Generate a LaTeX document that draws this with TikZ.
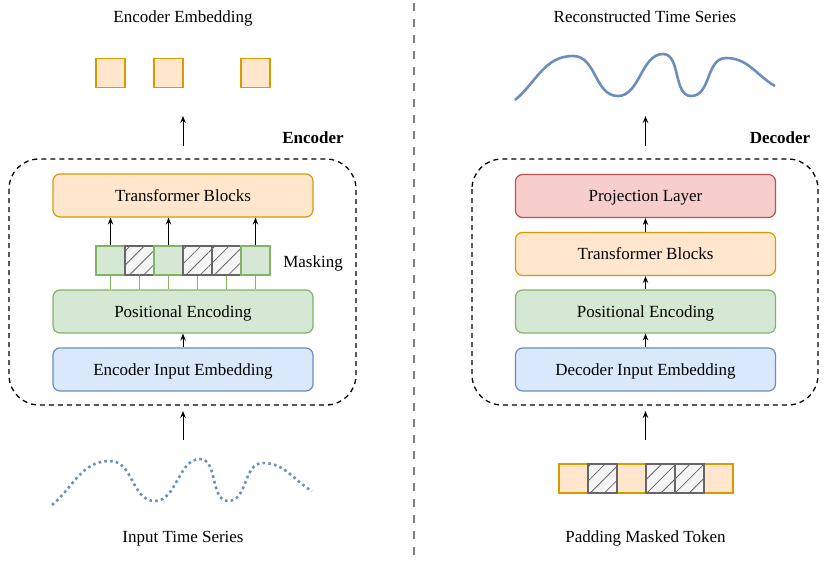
\documentclass[tikz,border=0pt]{standalone}
\usepackage{fontspec}
\setmainfont{Liberation Serif}
\usetikzlibrary{arrows.meta,patterns.meta}
\definecolor{orF}{HTML}{FFE6CC}\definecolor{orD}{HTML}{D79B00}
\definecolor{grF}{HTML}{D5E8D4}\definecolor{grD}{HTML}{82B366}
\definecolor{blF}{HTML}{DAE8FC}\definecolor{blD}{HTML}{6C8EBF}
\definecolor{rdF}{HTML}{F8CECC}\definecolor{rdD}{HTML}{B85450}
\definecolor{gyF}{HTML}{F5F5F5}\definecolor{gyD}{HTML}{666666}
\definecolor{divC}{HTML}{808080}
\tikzset{
  txt/.style={font=\fontsize{17}{20}\selectfont, inner sep=0pt, text height=13.4pt, text depth=2pt},
  blk/.style={draw, rounded corners=7pt, line width=1.2pt, minimum width=260pt, minimum height=43pt, inner sep=0pt, text height=13.4pt, text depth=2pt, font=\fontsize{17}{20}\selectfont},
  orblk/.style={blk, fill=orF, draw=orD},
  grblk/.style={blk, fill=grF, draw=grD},
  blblk/.style={blk, fill=blF, draw=blD},
  rdblk/.style={blk, fill=rdF, draw=rdD},
  cell/.style={minimum width=29pt, minimum height=29pt, inner sep=0pt, line width=1.2pt},
  grcell/.style={cell, fill=grF, draw=grD},
  orcell/.style={cell, fill=orF, draw=orD},
  hcell/.style={cell, draw=gyD, preaction={fill=gyF}, pattern={Lines[angle=45,distance=10pt,line width=0.8pt]}, pattern color=gyD},
  sq/.style={minimum width=29pt, minimum height=29pt, inner sep=0pt, line width=1.3pt, fill=orF, draw=orD},
  arr/.style={-{Stealth[length=7pt,width=5.5pt,inset=2.5pt]}, line width=0.9pt, black},
  grline/.style={draw=grD, line width=0.9pt},
  dbox/.style={draw, dashed, dash pattern=on 5pt off 4pt, line width=1.3pt, rounded corners=30pt},
  wave/.style={draw=blD, line width=2.6pt},
}
\begin{document}
\begin{tikzpicture}[x=1pt,y=-1pt]
\useasboundingbox (0,0) rectangle (830,560);
% divider
\draw[divC, line width=2.5pt, dash pattern=on 8pt off 8pt] (414,3) -- (414,556);

%%%%%%%% LEFT: Encoder
\node[txt] (encemb) at (183,17) {Encoder Embedding};
\node[sq] (s1) at (110.5,73) {};
\node[sq] (s2) at (168.5,73) {};
\node[sq] (s3) at (255.5,73) {};
\coordinate (ea1) at (183,146);
\coordinate (ea2) at (183,116);
\draw[arr] (ea1) -- (ea2);
\node[txt, font=\fontsize{17}{20}\selectfont\bfseries] (enclab) at (313,138) {Encoder};
\draw[dbox] (9,159) rectangle (356,405);
\node[orblk] (etb) at (183,195.5) {Transformer Blocks};
\node[grcell] (m1) at (110.5,260.5) {};
\node[hcell]  (m2) at (139.5,260.5) {};
\node[grcell] (m3) at (168.5,260.5) {};
\node[hcell]  (m4) at (197.5,260.5) {};
\node[hcell]  (m5) at (226.5,260.5) {};
\node[grcell] (m6) at (255.5,260.5) {};
\node[txt] (mask) at (313,262) {Masking};
\node[grblk] (epe) at (183,311.5) {Positional Encoding};
\node[blblk] (eie) at (183,369.5) {Encoder Input Embedding};
\foreach \m in {m1,m3,m6}{\draw[arr] (\m.north) -- (\m.north |- etb.south);}
\foreach \m in {m1,m2,m3,m4,m5,m6}{\draw[grline] (\m.south) -- (\m.south |- epe.north);}
\draw[arr] (eie.north) -- (epe.south);
\coordinate (ib1) at (183,440);
\coordinate (ib2) at (183,411);
\draw[arr] (ib1) -- (ib2);
\draw[wave, dash pattern=on 2.6pt off 3.2pt]
  (52,505) to[out=40,in=180] (110,461) to[out=0,in=180] (155,501)
  to[out=0,in=180,looseness=0.9] (200,459) to[out=0,in=180,looseness=0.9] (228,501)
  to[out=0,in=180] (263,463) to[out=0,in=150] (312,491);
\node[txt] (its) at (183,537) {Input Time Series};

%%%%%%%% RIGHT: Decoder
\node[txt] (rts) at (645,17) {Reconstructed Time Series};
\begin{scope}[shift={(463,-405)}]
\draw[wave]
  (52,505) to[out=40,in=180] (110,461) to[out=0,in=180] (155,501)
  to[out=0,in=180,looseness=0.9] (200,459) to[out=0,in=180,looseness=0.9] (228,501)
  to[out=0,in=180] (263,463) to[out=0,in=150] (312,491);
\end{scope}
\coordinate (da1) at (645.5,146);
\coordinate (da2) at (645.5,116);
\draw[arr] (da1) -- (da2);
\node[txt, font=\fontsize{17}{20}\selectfont\bfseries] (declab) at (780,138) {Decoder};
\draw[dbox] (472,159) rectangle (818,405);
\node[rdblk] (dpl) at (645.5,196) {Projection Layer};
\node[orblk] (dtb) at (645.5,254) {Transformer Blocks};
\node[grblk] (dpe) at (645.5,311.5) {Positional Encoding};
\node[blblk] (die) at (645.5,369.5) {Decoder Input Embedding};
\draw[arr] (dtb.north) -- (dpl.south);
\draw[arr] (dpe.north) -- (dtb.south);
\draw[arr] (die.north) -- (dpe.south);
\coordinate (db1) at (645.5,440);
\coordinate (db2) at (645.5,411);
\draw[arr] (db1) -- (db2);
\node[orcell] (p1) at (573.5,478.5) {};
\node[orcell] (p3) at (631.5,478.5) {};
\node[orcell] (p6) at (718.5,478.5) {};
\node[hcell]  (p2) at (602.5,478.5) {};
\node[hcell]  (p4) at (660.5,478.5) {};
\node[hcell]  (p5) at (689.5,478.5) {};
\node[txt] (pmt) at (645.5,537) {Padding Masked Token};
\end{tikzpicture}
\end{document}
